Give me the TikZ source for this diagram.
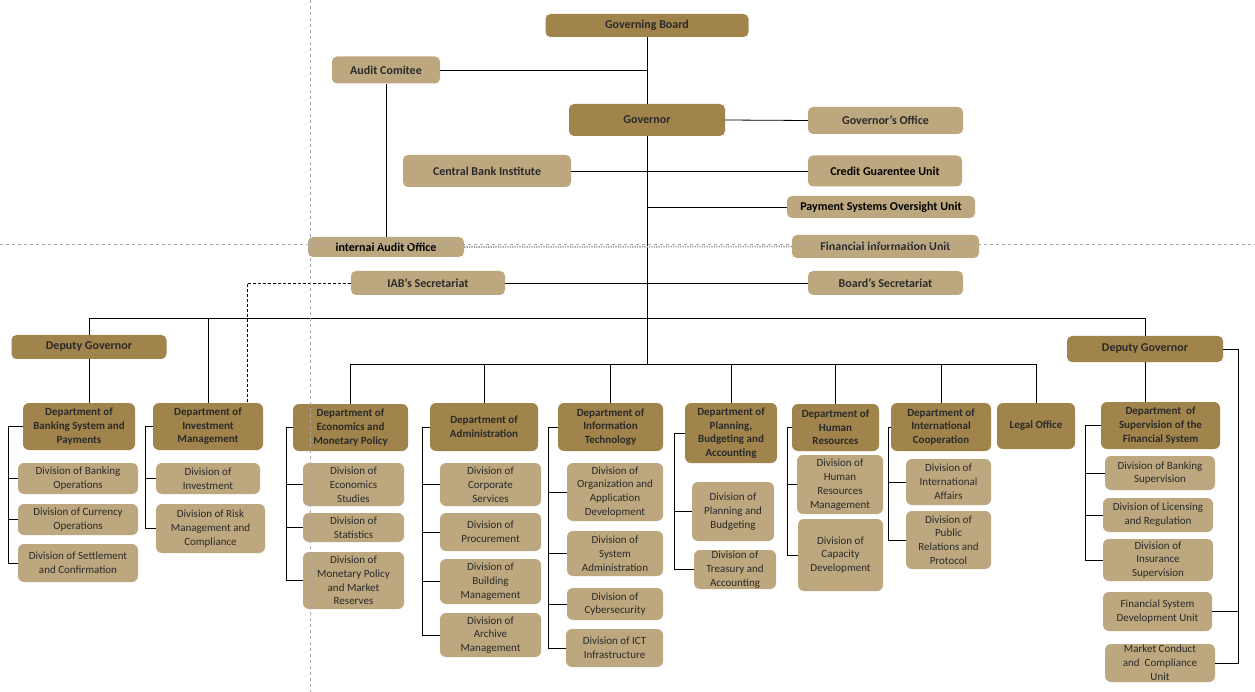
\documentclass[tikz,border=0pt]{standalone}
\usepackage{fontspec}
\setmainfont{Carlito}
\usetikzlibrary{calc}
\definecolor{dkc}{RGB}{160,132,76}
\definecolor{ltc}{RGB}{189,167,126}
\definecolor{txt}{RGB}{42,42,42}
\begin{document}
\begin{tikzpicture}[x=1pt,y=-1pt,
 bx/.style={rounded corners=5pt, inner sep=0pt, align=center, text=txt},
 dk/.style={bx, fill=dkc},
 lt/.style={bx, fill=ltc},
 tl/.style={font=\bfseries\fontsize{12}{14}\selectfont},
 blk/.style={text=black},
 dp/.style={dk, rounded corners=6pt, font=\bfseries\fontsize{11}{13.6}\selectfont},
 dv/.style={lt, rounded corners=6pt, font=\fontsize{11}{13.8}\selectfont},
 sz/.style 2 args={minimum width=#1, minimum height=#2},
 ln/.style={draw=black, line width=0.8pt},
 dsh/.style={draw=black, line width=0.8pt, dash pattern=on 3pt off 2pt},
 guide/.style={draw=gray!70, line width=0.6pt, dash pattern=on 3pt off 3pt}]
\fill[white] (0,0) rectangle (1255,692);
\useasboundingbox (0,0) rectangle (1255,692);

% ---------- top level ----------
\node[dk,tl,sz={203}{23}] (gb) at (647,25.5) {Governing Board};
\node[lt,tl,sz={108}{27}] (ac) at (386,70) {Audit Comitee};
\node[dk,tl,sz={156}{32}] (gov) at (647,120) {Governor};
\node[lt,tl,sz={155}{27}] (go) at (885.5,120.5) {Governor’s Office};
\node[lt,tl,sz={168}{32}] (cbi) at (487,171) {Central Bank Institute};
\node[lt,tl,blk,sz={154}{31}] (cgu) at (885,171) {Credit Guarentee Unit};
\node[lt,tl,blk,sz={188}{22}] (pso) at (881,207) {Payment Systems Oversight Unit};
\node[lt,tl,blk,sz={156}{20}] (iao) at (386,247) {internal Audit Office};
\node[lt,tl,sz={187}{23}] (fiu) at (885.5,246.5) {Financiai information Unit};
\node[lt,tl,sz={154}{24}] (iab) at (428,283) {IAB’s Secretariat};
\node[lt,tl,sz={155}{24}] (bs) at (885.5,283) {Board’s Secretariat};
\node[dk,tl,sz={155}{24}] (dgl) at (89,347) {Deputy Governor};
\node[dk,tl,sz={156}{26}] (dgr) at (1145,349) {Deputy Governor};

% ---------- departments ----------
\node[dp,sz={112}{47}] (bsp) at (79,426.5) {Department of\\Banking System and\\Payments};
\node[dp,sz={110}{47}] (dim) at (208,426.5) {Department of\\Investment\\Management};
\node[dp,sz={115}{47}] (dem) at (350.5,427.5) {Department of\\Economics and\\Monetary Policy};
\node[dp,sz={108}{48}] (dad) at (484,427) {Department of\\Administration};
\node[dp,sz={105}{48}] (dit) at (610.5,427) {Department of\\Information\\Technology};
\node[dp,sz={92}{60}] (dpb) at (731,433) {Department of\\Planning,\\Budgeting and\\Accounting};
\node[dp,sz={87}{47}] (dhr) at (835.5,427.5) {Department of\\Human\\Resources};
\node[dp,sz={100}{48}] (dic) at (941,427) {Department of\\International\\Cooperation};
\node[dp,sz={78}{46}] (lo) at (1036,426) {Legal Office};
\node[dp,sz={119}{47}] (dsf) at (1160.5,425.5) {Department\ \ of\\Supervision of the\\Financial System};

% ---------- divisions ----------
\node[dv,sz={120}{31}] (d11) at (78,478.5) {Division of Banking\\Operations};
\node[dv,sz={120}{31}] (d12) at (78,519.5) {Division of Currency\\Operations};
\node[dv,sz={120}{38}] (d13) at (78,563) {Division of Settlement\\and Confirmation};

\node[dv,sz={104}{31}] (d21) at (208,478.5) {Division of\\Investment};
\node[dv,sz={109}{49}] (d22) at (210.5,528.5) {Division of Risk\\Management and\\Compliance};

\node[dv,sz={101}{43}] (d31) at (353.5,484.5) {Division of\\Economics\\Studies};
\node[dv,sz={101}{29}] (d32) at (353.5,527.5) {Division of\\Statistics};
\node[dv,sz={101}{57}] (d33) at (353.5,580.5) {Division of\\Monetary Policy\\and Market\\Reserves};

\node[dv,sz={101}{43}] (d41) at (490.5,484.5) {Division of\\Corporate\\Services};
\node[dv,sz={101}{38}] (d42) at (490.5,532) {Division of\\Procurement};
\node[dv,sz={101}{45}] (d43) at (490.5,581.5) {Division of\\Building\\Management};
\node[dv,sz={101}{44}] (d44) at (490.5,635) {Division of\\Archive\\Management};

\node[dv,sz={96}{58}] (d51) at (615,492) {Division of\\Organization and\\Application\\Development};
\node[dv,sz={96}{45}] (d52) at (615,553.5) {Division of\\System\\Administration};
\node[dv,sz={96}{32}] (d53) at (615,604) {Division of\\Cybersecurity};
\node[dv,sz={97}{38}] (d54) at (614.5,648) {Division of ICT\\Infrastructure};

\node[dv,sz={82}{59}] (d61) at (733,511.5) {Division of\\Planning and\\Budgeting};
\node[dv,sz={82}{39}] (d62) at (735,569.5) {Division of\\Treasury and\\Accounting};

\node[dv,sz={86}{59}] (d71) at (840,484.5) {Division of\\Human\\Resources\\Management};
\node[dv,sz={85}{72}] (d72) at (840.5,555) {Division of\\Capacity\\Development};

\node[dv,sz={85}{46}] (d81) at (948.5,482) {Division of\\International\\Affairs};
\node[dv,sz={85}{58}] (d82) at (948.5,540) {Division of\\Public\\Relations and\\Protocol};

\node[dv,sz={110}{34}] (d91) at (1160,473) {Division of Banking\\Supervision};
\node[dv,sz={110}{34}] (d92) at (1158,515) {Division of Licensing\\and Regulation};
\node[dv,sz={110}{42}] (d93) at (1158,560) {Division of\\Insurance\\Supervision};
\node[dv,sz={109}{39}] (u1) at (1157.5,611.5) {Financial System\\Development Unit};
\node[dv,sz={110}{38}] (u2) at (1160,663) {Market Conduct\\and\ \ Compliance\\Unit};

% ---------- helper coordinates ----------
\coordinate (b1) at (0,318);
\coordinate (b2) at (0,364);
\coordinate (iabc) at (247,283);
\coordinate (x1) at (8,0);
\coordinate (x2) at (145,0);
\coordinate (x3) at (286,0);
\coordinate (x4) at (422,0);
\coordinate (x5) at (548,0);
\coordinate (x6) at (674,0);
\coordinate (x7) at (787,0);
\coordinate (x8) at (888,0);
\coordinate (x9) at (1085,0);
\coordinate (xr) at (1238,0);

% ---------- top connectors ----------
\draw[ln] (gb.south) -- (gov.north);
\draw[ln] (ac.east) -- (ac.east -| gb.south);
\draw[ln] (gov.east) -- (go.west);
\draw[ln] (cbi.east) -- (cgu.west);
\draw[ln] (gov.south) -- (gov.south |- b2);
\draw[ln] (gov.south |- pso.west) -- (pso.west);
\draw[ln] (ac.south) -- (iao.north);
\draw[draw=gray!80, line width=1.6pt, dash pattern=on 1.2pt off 1.2pt] (iao.east) -- (fiu.west);
\draw[ln] (iab.east) -- (bs.west);
\draw[dsh] (iab.west) -- (iabc) -- (iabc |- dim.north);

% ---------- buses ----------
\draw[ln] (dgl.north) -- (dgl.north |- b1) -- (dgr.north |- b1) -- (dgr.north);
\draw[ln] (dim.north |- b1) -- (dim.north);
\draw[ln] (dgl.south) -- (dgl.south |- bsp.north);
\draw[ln] (dgr.south) -- (dgr.south |- dsf.north);
\draw[ln] (dem.north) -- (dem.north |- b2) -- (lo.north |- b2) -- (lo.north);
\foreach \n in {dad,dit,dpb,dhr,dic} \draw[ln] (\n.north |- b2) -- (\n.north);

% ---------- brackets ----------
\draw[ln] (bsp.west) -| (x1 |- d13.west) -- (d13.west);
\foreach \n in {d11,d12} \draw[ln] (x1 |- \n.west) -- (\n.west);
\draw[ln] (dim.west) -| (x2 |- d22.west) -- (d22.west);
\draw[ln] (x2 |- d21.west) -- (d21.west);
\draw[ln] (dem.west) -| (x3 |- d33.west) -- (d33.west);
\foreach \n in {d31,d32} \draw[ln] (x3 |- \n.west) -- (\n.west);
\draw[ln] (dad.west) -| (x4 |- d44.west) -- (d44.west);
\foreach \n in {d41,d42,d43} \draw[ln] (x4 |- \n.west) -- (\n.west);
\draw[ln] (dit.west) -| (x5 |- d54.west) -- (d54.west);
\foreach \n in {d51,d52,d53} \draw[ln] (x5 |- \n.west) -- (\n.west);
\draw[ln] (dpb.west) -| (x6 |- d62.west) -- (d62.west);
\draw[ln] (x6 |- d61.west) -- (d61.west);
\draw[ln] (dhr.west) -| (x7 |- d72.west) -- (d72.west);
\draw[ln] (x7 |- d71.west) -- (d71.west);
\draw[ln] (dic.west) -| (x8 |- d82.west) -- (d82.west);
\draw[ln] (x8 |- d81.west) -- (d81.west);
\draw[ln] (dsf.west) -| (x9 |- d93.west) -- (d93.west);
\foreach \n in {d91,d92} \draw[ln] (x9 |- \n.west) -- (\n.west);
\draw[ln] (dgr.east) -| (xr |- u2.east) -- (u2.east);
\draw[ln] (xr |- u1.east) -- (u1.east);

% ---------- guide lines ----------
\draw[guide] (310,0) -- (310,692);
\draw[guide] (0,244) -- (1255,244);
\end{tikzpicture}
\end{document}
